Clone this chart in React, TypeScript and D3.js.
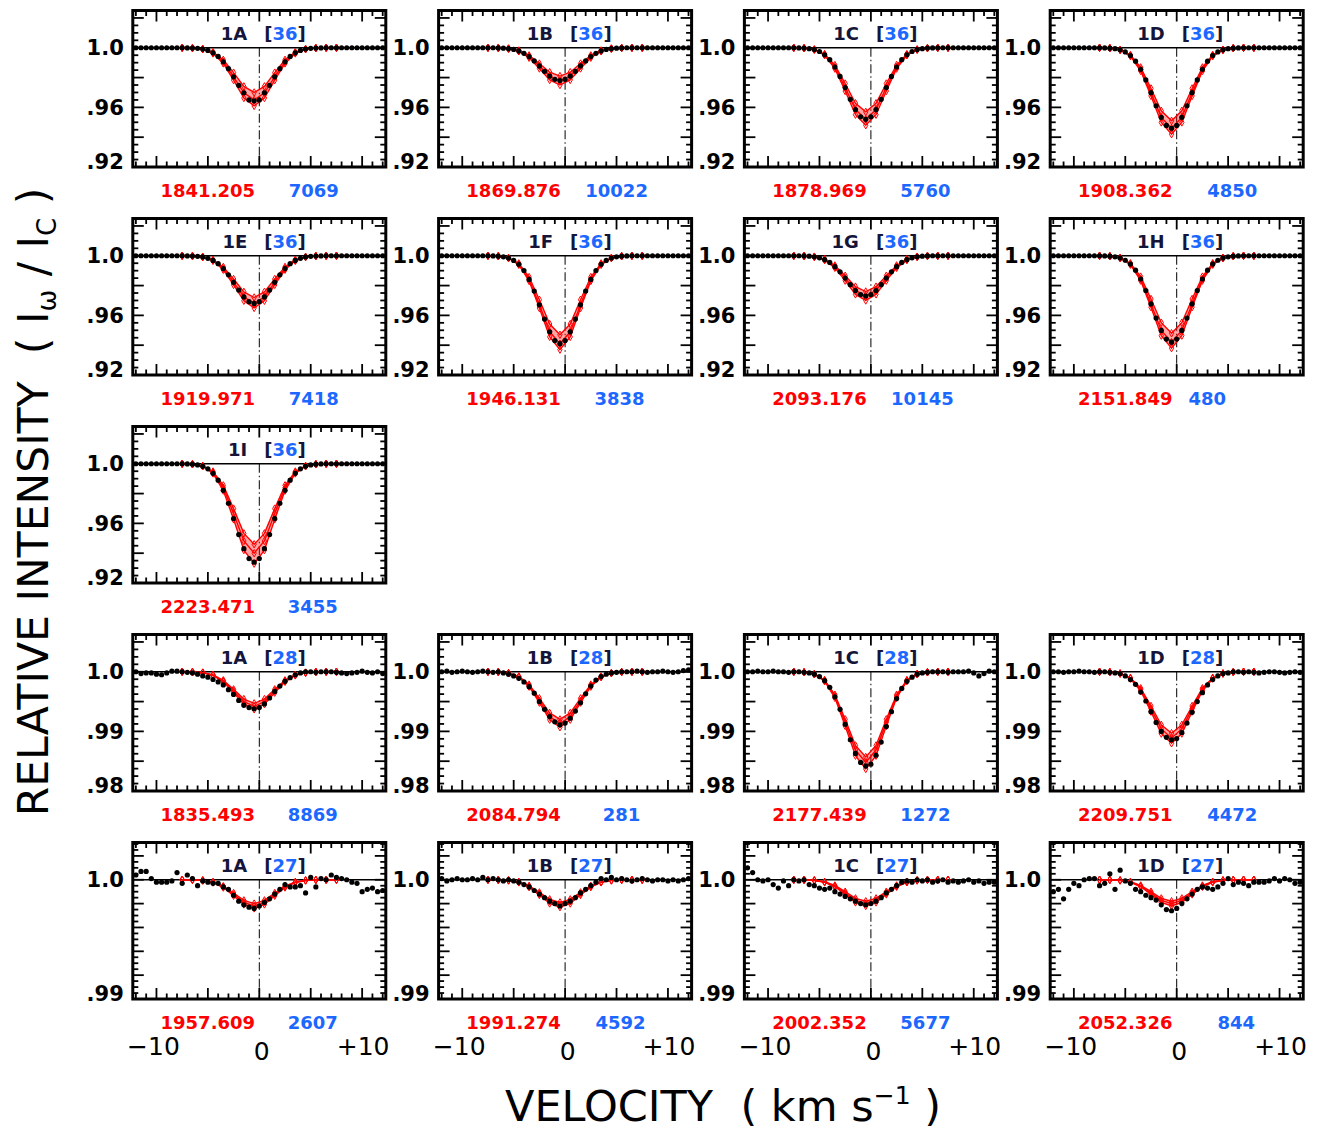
import React from "react";
import * as d3 from "d3";

// ---------------- DATA ----------------
const velocityGrid = [-12,-11.5,-11,-10.5,-10,-9.5,-9,-8.5,-8,-7.5,-7,-6.5,-6,-5.5,-5,-4.5,-4,-3.5,-3,-2.5,-2,-1.5,-1,-0.5,0,0.5,1,1.5,2,2.5,3,3.5,4,4.5,5,5.5,6,6.5,7,7.5,8,8.5,9,9.5,10,10.5,11,11.5,12];
const modelVelocity = [-7.5,-6.5,-5.5,-4.5,-3.5,-2.5,-1.5,-0.5,0.5,1.5,2.5,3.5,4.5,5.5,6.5,7.5];

const panelIds = ["1A","1B","1C","1D","1E","1F","1G","1H","1I","1A","1B","1C","1D","1A","1B","1C","1D"];
const panelSets = ["36","36","36","36","36","36","36","36","36","28","28","28","28","27","27","27","27"];
const redLabels = ["1841.205","1869.876","1878.969","1908.362","1919.971","1946.131","2093.176","2151.849","2223.471","1835.493","2084.794","2177.439","2209.751","1957.609","1991.274","2002.352","2052.326"];
const blueLabels = ["7069","10022","5760","4850","7418","3838","10145","480","3455","8869","281","1272","4472","2607","4592","5677","844"];

const obs_36_1A = [1,1,1,1,1,1,1,1,1,1,.9999,.9998,.9996,.9991,.9982,.9966,.9942,.9906,.9860,.9805,.9748,.9698,.9650,.9644,.9650,.9698,.9748,.9805,.9860,.9906,.9942,.9966,.9982,.9991,.9996,.9998,.9999,1,1,1,1,1,1,1,1,1,1,1,1];
const obs_36_1B = [1,1,1,1,1,1,1,1,1,1,1,.9999,.9997,.9994,.9989,.9979,.9963,.9941,.9912,.9878,.9842,.9810,.9788,.9780,.9788,.9810,.9842,.9878,.9912,.9941,.9963,.9979,.9989,.9994,.9997,.9999,1,1,1,1,1,1,1,1,1,1,1,1,1];
const obs_36_1C = [1,1,1,1,1,1,1,1,1,1,.9999,.9998,.9994,.9988,.9975,.9953,.9920,.9871,.9808,.9733,.9654,.9585,.9537,.9520,.9537,.9585,.9654,.9733,.9808,.9871,.9920,.9953,.9975,.9988,.9994,.9998,.9999,1,1,1,1,1,1,1,1,1,1,1,1];
const obs_36_1D = [1,1,1,1,1,1,1,1,1,1,.9999,.9997,.9994,.9986,.9972,.9948,.9910,.9855,.9784,.9699,.9611,.9533,.9479,.9460,.9479,.9533,.9611,.9699,.9784,.9855,.9910,.9948,.9972,.9986,.9994,.9997,.9999,1,1,1,1,1,1,1,1,1,1,1,1];
const obs_36_1E = [1,1,1,1,1,1,1,1,1,1,.9999,.9998,.9996,.9992,.9983,.9969,.9947,.9914,.9872,.9822,.9770,.9724,.9692,.9680,.9692,.9724,.9770,.9822,.9872,.9914,.9947,.9969,.9983,.9992,.9996,.9998,.9999,1,1,1,1,1,1,1,1,1,1,1,1];
const obs_36_1F = [1,1,1,1,1,1,1,1,1,1,.9999,.9997,.9993,.9985,.9969,.9943,.9901,.9841,.9763,.9671,.9575,.9490,.9431,.9410,.9431,.9490,.9575,.9671,.9763,.9841,.9901,.9943,.9969,.9985,.9993,.9997,.9999,1,1,1,1,1,1,1,1,1,1,1,1];
const obs_36_1G = [1,1,1,1,1,1,1,1,1,1,1,.9999,.9997,.9993,.9986,.9974,.9955,.9927,.9892,.9850,.9806,.9767,.9740,.9730,.9740,.9767,.9806,.9850,.9892,.9927,.9955,.9974,.9986,.9993,.9997,.9999,1,1,1,1,1,1,1,1,1,1,1,1,1];
const obs_36_1H = [1,1,1,1,1,1,1,1,1,1,.9999,.9997,.9993,.9985,.9970,.9944,.9903,.9844,.9767,.9677,.9582,.9499,.9441,.9420,.9441,.9499,.9582,.9677,.9767,.9844,.9903,.9944,.9970,.9985,.9993,.9997,.9999,1,1,1,1,1,1,1,1,1,1,1,1];
const obs_36_1I = [1,1,1,1,1,1,1,1,1,1,.9999,.9997,.9992,.9983,.9966,.9936,.9890,.9822,.9735,.9632,.9525,.9430,.9364,.9340,.9364,.9430,.9525,.9632,.9735,.9822,.9890,.9936,.9966,.9983,.9992,.9997,.9999,1,1,1,1,1,1,1,1,1,1,1,1];
const obs_28_1A = [1.0000,.9997,.9998,.9998,.9996,.9995,.9998,1.0001,1.0001,1.0000,.9999,.9998,.9996,.9993,.9991,.9987,.9983,.9978,.9970,.9962,.9952,.9944,.9940,.9938,.9940,.9946,.9956,.9967,.9976,.9984,.9990,.9995,.9998,1.0000,1.0000,.9999,1.0000,1.0000,1.0000,.9999,.9998,.9997,.9998,.9999,1.0001,.9999,.9998,1.0000,.9997];
const obs_28_1B = [1.0000,1.0001,.9999,1.0000,1.0001,1.0000,.9999,1.0000,1.0001,1.0000,.9999,1.0000,.9998,.9996,.9993,.9989,.9983,.9975,.9964,.9950,.9937,.9925,.9916,.9911,.9914,.9922,.9934,.9948,.9963,.9976,.9986,.9992,.9996,.9998,.9999,1.0000,1.0000,1.0000,1.0001,1.0000,.9999,1.0000,1.0000,1.0001,1.0000,.9999,1.0000,1.0002,1.0003];
const obs_28_1C = [1.0000,1.0000,1.0001,1.0000,1.0000,1.0001,1.0000,1.0000,.9999,1.0000,1.0000,.9999,.9998,.9996,.9992,.9985,.9974,.9958,.9937,.9912,.9886,.9863,.9848,.9842,.9845,.9860,.9882,.9908,.9933,.9955,.9972,.9984,.9991,.9996,.9998,.9999,1.0000,1.0000,1.0000,.9999,1.0000,1.0000,1.0000,1.0001,.9998,.9993,.9997,1.0001,1.0000];
const obs_28_1D = [1.0000,1.0000,.9999,1.0000,1.0000,1.0001,1.0000,1.0000,.9999,1.0000,1.0000,.9999,.9998,.9997,.9993,.9987,.9979,.9966,.9951,.9933,.9915,.9900,.9890,.9886,.9888,.9898,.9914,.9932,.9950,.9965,.9978,.9987,.9993,.9997,.9998,1.0000,1.0000,.9999,1.0000,.9999,.9998,.9999,1.0000,1.0000,.9999,.9998,.9999,1.0000,.9999];
const obs_27_1A = [1.0004,1.0007,1.0007,1.0001,.9998,.9998,.9998,.9999,1.0006,.9997,1.0004,1.0001,.9995,.9999,.9998,.9997,.9997,.9994,.9992,.9987,.9982,.9979,.9977,.9976,.9978,.9981,.9984,.9988,.9992,.9996,.9994,.9994,.9995,.9989,1.0002,.9994,1.0001,1.0000,1.0004,1.0002,1.0001,1.0000,.9998,.9997,.9990,.9992,.9993,.9990,.9991];
const obs_27_1B = [1.0001,.9999,1.0000,1.0001,1.0000,1.0000,1.0001,1.0000,1.0002,1.0000,1.0001,1.0000,.9999,1.0000,.9999,.9998,.9996,.9994,.9991,.9988,.9985,.9982,.9980,.9978,.9980,.9982,.9985,.9989,.9992,.9995,.9998,1.0001,1.0000,1.0002,1.0000,1.0001,1.0000,.9999,1.0000,1.0001,1.0000,.9999,1.0000,1.0000,.9999,1.0000,.9999,1.0000,1.0001];
const obs_27_1C = [1.0010,1.0006,1.0000,.9999,1.0000,.9996,.9993,.9999,.9995,1.0000,.9999,1.0000,.9996,.9995,.9993,.9992,.9993,.9990,.9988,.9986,.9984,.9982,.9980,.9979,.9980,.9982,.9985,.9989,.9992,.9995,.9998,.9999,.9998,1.0000,.9999,1.0000,.9998,.9999,1.0000,.9998,.9999,.9998,.9999,1.0000,.9998,.9999,.9997,.9998,.9998];
const obs_27_1D = [.9990,.9992,.9984,.9992,.9997,.9995,1.0000,1.0001,1.0001,.9995,.9997,1.0005,.9992,1.0008,.9999,.9997,.9992,.9990,.9987,.9985,.9983,.9979,.9975,.9974,.9976,.9980,.9984,.9988,.9992,.9994,.9993,.9992,.9994,.9997,1.0001,.9996,.9998,.9997,.9995,.9998,.9998,.9998,.9999,1.0001,.9999,1.0001,1.0000,.9997,.9998];

const mod_36_1A = [
  [1,.9998,.9992,.9971,.9919,.9833,.9741,.9700,.9741,.9833,.9919,.9971,.9992,.9998,1,1],
  [1,.9998,.9991,.9966,.9906,.9805,.9698,.9650,.9698,.9805,.9906,.9966,.9991,.9998,1,1],
  [1,.9998,.9990,.9962,.9895,.9783,.9663,.9610,.9663,.9783,.9895,.9962,.9990,.9998,1,1]];
const mod_36_1B = [
  [1,.9999,.9995,.9982,.9949,.9894,.9836,.9810,.9836,.9894,.9949,.9982,.9995,.9999,1,1],
  [1,.9999,.9994,.9979,.9941,.9878,.9810,.9780,.9810,.9878,.9941,.9979,.9994,.9999,1,1],
  [1,.9999,.9994,.9976,.9933,.9861,.9784,.9750,.9784,.9861,.9933,.9976,.9994,.9999,1,1]];
const mod_36_1C = [
  [1,.9998,.9989,.9958,.9884,.9760,.9628,.9570,.9628,.9760,.9884,.9958,.9989,.9998,1,1],
  [1,.9998,.9988,.9953,.9871,.9733,.9585,.9520,.9585,.9733,.9871,.9953,.9988,.9998,1,1],
  [1,.9997,.9987,.9950,.9860,.9710,.9551,.9480,.9551,.9710,.9860,.9950,.9987,.9997,1,1]];
const mod_36_1D = [
  [1,.9998,.9987,.9952,.9868,.9727,.9577,.9510,.9577,.9727,.9868,.9952,.9987,.9998,1,1],
  [1,.9997,.9986,.9948,.9855,.9699,.9533,.9460,.9533,.9699,.9855,.9948,.9986,.9997,1,1],
  [1,.9997,.9985,.9944,.9844,.9677,.9499,.9420,.9499,.9677,.9844,.9944,.9985,.9997,1,1]];
const mod_36_1E = [
  [1,.9999,.9993,.9973,.9925,.9844,.9758,.9720,.9758,.9844,.9925,.9973,.9993,.9999,1,1],
  [1,.9998,.9992,.9969,.9914,.9822,.9724,.9680,.9724,.9822,.9914,.9969,.9992,.9998,1,1],
  [1,.9998,.9991,.9966,.9906,.9805,.9698,.9650,.9698,.9805,.9906,.9966,.9991,.9998,1,1]];
const mod_36_1F = [
  [1,.9997,.9986,.9949,.9857,.9705,.9542,.9470,.9542,.9705,.9857,.9949,.9986,.9997,1,1],
  [1,.9997,.9985,.9943,.9841,.9671,.9490,.9410,.9490,.9671,.9841,.9943,.9985,.9997,1,1],
  [1,.9997,.9984,.9939,.9831,.9649,.9456,.9370,.9456,.9649,.9831,.9939,.9984,.9997,1,1]];
const mod_36_1G = [
  [1,.9999,.9994,.9977,.9935,.9866,.9793,.9760,.9793,.9866,.9935,.9977,.9994,.9999,1,1],
  [1,.9999,.9993,.9974,.9927,.9850,.9767,.9730,.9767,.9850,.9927,.9974,.9993,.9999,1,1],
  [1,.9998,.9992,.9971,.9919,.9833,.9741,.9700,.9741,.9833,.9919,.9971,.9992,.9998,1,1]];
const mod_36_1H = [
  [1,.9997,.9987,.9950,.9860,.9710,.9551,.9480,.9551,.9710,.9860,.9950,.9987,.9997,1,1],
  [1,.9997,.9985,.9944,.9844,.9677,.9499,.9420,.9499,.9677,.9844,.9944,.9985,.9997,1,1],
  [1,.9997,.9984,.9940,.9833,.9655,.9464,.9380,.9464,.9655,.9833,.9940,.9984,.9997,1,1]];
const mod_36_1I = [
  [1,.9997,.9986,.9948,.9855,.9699,.9533,.9460,.9533,.9699,.9855,.9948,.9986,.9997,1,1],
  [1,.9997,.9984,.9942,.9839,.9666,.9482,.9400,.9482,.9666,.9839,.9942,.9984,.9997,1,1],
  [1,.9997,.9983,.9935,.9820,.9627,.9421,.9330,.9421,.9627,.9820,.9935,.9983,.9997,1,1]];
const mod_28_1A = [
  [1,.99997,.99986,.99949,.99857,.99705,.99542,.9947,.99542,.99705,.99857,.99949,.99986,.99997,1,1],
  [1,.99997,.99985,.99944,.99844,.99677,.99499,.9942,.99499,.99677,.99844,.99944,.99985,.99997,1,1],
  [1,.99997,.99984,.99939,.99831,.99649,.99456,.9937,.99456,.99649,.99831,.99939,.99984,.99997,1,1]];
const mod_28_1B = [
  [1,.99996,.99979,.99922,.99785,.99554,.99309,.992,.99309,.99554,.99785,.99922,.99979,.99996,1,1],
  [1,.99996,.99977,.99916,.99766,.99515,.99248,.9913,.99248,.99515,.99766,.99916,.99977,.99996,1,1],
  [1,.99995,.99976,.9991,.9975,.99482,.99196,.9907,.99196,.99482,.9975,.9991,.99976,.99995,1,1]];
const mod_28_1C = [
  [1,.99993,.99963,.99861,.99615,.99203,.98764,.9857,.98764,.99203,.99615,.99861,.99963,.99993,1,1],
  [1,.99992,.9996,.99853,.99591,.99153,.98687,.9848,.98687,.99153,.99591,.99853,.9996,.99992,1,1],
  [1,.99992,.99958,.99842,.99562,.99092,.98592,.9837,.98592,.99092,.99562,.99842,.99958,.99992,1,1]];
const mod_28_1D = [
  [1,.99995,.99973,.999,.99723,.99426,.9911,.9897,.9911,.99426,.99723,.999,.99973,.99995,1,1],
  [1,.99994,.99971,.99892,.99701,.99382,.99041,.9889,.99041,.99382,.99701,.99892,.99971,.99994,1,1],
  [1,.99994,.99969,.99884,.99677,.99332,.98963,.988,.98963,.99332,.99677,.99884,.99969,.99994,1,1]];
const mod_27_1A = [
  [1,.99999,.99995,.99981,.99946,.99889,.99827,.998,.99827,.99889,.99946,.99981,.99995,.99999,1,1],
  [1,.99999,.99994,.99979,.99941,.99877,.9981,.9978,.9981,.99877,.99941,.99979,.99994,.99999,1,1],
  [1,.99999,.99994,.99977,.99935,.99866,.99793,.9976,.99793,.99866,.99935,.99977,.99994,.99999,1,1]];
const mod_27_1B = [
  [1,.99999,.99995,.99982,.99949,.99894,.99836,.9981,.99836,.99894,.99949,.99982,.99995,.99999,1,1],
  [1,.99999,.99995,.9998,.99944,.99883,.99819,.9979,.99819,.99883,.99944,.9998,.99995,.99999,1,1],
  [1,.99999,.99994,.99978,.99938,.99872,.99801,.9977,.99801,.99872,.99938,.99978,.99994,.99999,1,1]];
const mod_27_1C = [
  [1,.99999,.99995,.99983,.99952,.999,.99844,.9982,.99844,.999,.99952,.99983,.99995,.99999,1,1],
  [1,.99999,.99995,.99981,.99946,.99889,.99827,.998,.99827,.99889,.99946,.99981,.99995,.99999,1,1],
  [1,.99999,.99994,.99979,.99941,.99877,.9981,.9978,.9981,.99877,.99941,.99979,.99994,.99999,1,1]];
const mod_27_1D = [
  [1,.99999,.99995,.99983,.99952,.999,.99844,.9982,.99844,.999,.99952,.99983,.99995,.99999,1,1],
  [1,.99999,.99995,.99981,.99946,.99889,.99827,.998,.99827,.99889,.99946,.99981,.99995,.99999,1,1],
  [1,.99999,.99994,.99979,.99941,.99877,.9981,.9978,.9981,.99877,.99941,.99979,.99994,.99999,1,1]];

const obsSeries = [obs_36_1A,obs_36_1B,obs_36_1C,obs_36_1D,obs_36_1E,obs_36_1F,obs_36_1G,obs_36_1H,obs_36_1I,obs_28_1A,obs_28_1B,obs_28_1C,obs_28_1D,obs_27_1A,obs_27_1B,obs_27_1C,obs_27_1D];
const modelSeries = [mod_36_1A,mod_36_1B,mod_36_1C,mod_36_1D,mod_36_1E,mod_36_1F,mod_36_1G,mod_36_1H,mod_36_1I,mod_28_1A,mod_28_1B,mod_28_1C,mod_28_1D,mod_27_1A,mod_27_1B,mod_27_1C,mod_27_1D];

const rowTickValues = [[1.0,0.96,0.92],[1.0,0.96,0.92],[1.0,0.96,0.92],[1.0,0.99,0.98],[1.0,0.99]];
const rowTickTexts = [["1.0",".96",".92"],["1.0",".96",".92"],["1.0",".96",".92"],["1.0",".99",".98"],["1.0",".99"]];
const xTickValues = [-10, 0, 10];
const xTickTexts = ["\u221210", "0", "+10"];

// ---------------- LAYOUT ----------------
const W = 1325, H = 1133;
const panelRow = [0,0,0,0,1,1,1,1,2,3,3,3,3,4,4,4,4];
const panelCol = [0,1,2,3,0,1,2,3,0,0,1,2,3,0,1,2,3];
const colLeft = [132.8, 438.6, 744.4, 1050.2];
const rowTop = [10.5, 218.5, 426.5, 634.5, 842.5];
const PW = 253, PH = 156.5;
const xDomain: [number, number] = [-12.3, 12.3];
const rowDomain: [number, number][] = [[0.92,1.025],[0.92,1.025],[0.92,1.025],[0.98,1.00625],[0.99,1.003125]];
const rowMajor = [0.02,0.02,0.02,0.005,0.002];
const rowMinor = [0.005,0.005,0.005,0.00125,0.0005];
const blueCenter = [181,178,181,182,181,181,178,157,180,180,183,181,182,180,182,181,186];
const redCenter = 75;

const RED = "#ff0000";
const BLUE = "#1c68ff";
const NAVY = "#15153a";
const FONT = "DejaVu Sans";

function Panel({ i }: { i: number }) {
  const r = panelRow[i], c = panelCol[i];
  const left = colLeft[c], top = rowTop[r];
  const right = left + PW, bottom = top + PH;
  const x = d3.scaleLinear().domain(xDomain).range([left, right]);
  const y = d3.scaleLinear().domain(rowDomain[r]).range([bottom, top]);
  const [d0, d1] = rowDomain[r];
  const minor = rowMinor[r], major = rowMajor[r];
  const n = Math.floor((d1 - d0) / minor + 1e-6);
  const yTicks = d3.range(1, n + 1).map(k => d0 + k * minor).filter(v => v < d1 - 1e-9);
  const isMajorY = (v: number) => { const q = (v - d0) / major; return Math.abs(q - Math.round(q)) < 1e-4; };
  const xTicks = d3.range(-12, 13);

  const line = d3.line<number>().x((_, j) => x(modelVelocity[j])).y(d => y(d));
  const models = modelSeries[i];
  const lo = models[0], hi = models[models.length - 1];
  const band = d3.area<number>().x((_, j) => x(modelVelocity[j])).y0((_, j) => y(lo[j])).y1((_, j) => y(hi[j]));
  const diamond = d3.symbol().type(d3.symbolDiamond).size(16)();
  const obs = obsSeries[i];
  const cx = x(0);

  return (
    <g>
      <line x1={left} x2={right} y1={y(1)} y2={y(1)} stroke="#000" strokeWidth={1.3} />
      <line x1={cx} x2={cx} y1={y(1)} y2={bottom} stroke="#000" strokeWidth={1} strokeDasharray="9,3,1.5,3" />
      <path d={band(lo) || ""} fill={RED} fillOpacity={0.35} stroke="none" />
      {models.map((m, k) => (
        <g key={"m" + k}>
          <path d={line(m) || ""} fill="none" stroke={RED} strokeWidth={1.4} />
          {m.map((v, j) => (
            <path key={j} d={diamond || ""} transform={`translate(${x(modelVelocity[j])},${y(v)})`} fill="none" stroke={RED} strokeWidth={1} />
          ))}
        </g>
      ))}
      {obs.map((v, j) => (
        <circle key={"o" + j} cx={x(velocityGrid[j])} cy={y(v)} r={2.6} fill="#000" />
      ))}
      {xTicks.map(v => {
        const len = v % 5 === 0 ? 11 : 5.5;
        return (
          <g key={"xt" + v}>
            <line x1={x(v)} x2={x(v)} y1={bottom} y2={bottom - len} stroke="#000" strokeWidth={1.8} />
            <line x1={x(v)} x2={x(v)} y1={top} y2={top + len} stroke="#000" strokeWidth={1.8} />
          </g>
        );
      })}
      {yTicks.map((v, k) => {
        const len = isMajorY(v) ? 11 : 5.5;
        return (
          <g key={"yt" + k}>
            <line x1={left} x2={left + len} y1={y(v)} y2={y(v)} stroke="#000" strokeWidth={1.8} />
            <line x1={right} x2={right - len} y1={y(v)} y2={y(v)} stroke="#000" strokeWidth={1.8} />
          </g>
        );
      })}
      <rect x={left} y={top} width={PW} height={PH} fill="none" stroke="#000" strokeWidth={3} />
      {rowTickValues[r].map((v, k) => (
        <text key={"yl" + k} x={left - 9} y={Math.abs(v - d0) < 1e-9 ? y(v) - 6 : y(v)} dy="0.36em"
          textAnchor="end" fontFamily={FONT} fontWeight="bold" fontSize={21} fill="#000">
          {rowTickTexts[r][k]}
        </text>
      ))}
      <text x={cx - 12} y={top + 29} textAnchor="end" fontFamily={FONT} fontWeight="bold" fontSize={18} fill={NAVY}>
        {panelIds[i]}
      </text>
      <text x={cx + 5} y={top + 29} textAnchor="start" fontFamily={FONT} fontWeight="bold" fontSize={18} fill={NAVY}>
        [<tspan fill={BLUE}>{panelSets[i]}</tspan>]
      </text>
      <text x={left + redCenter} y={bottom + 29.5} textAnchor="middle" fontFamily={FONT} fontWeight="bold" fontSize={18} fill={RED}>
        {redLabels[i]}
      </text>
      <text x={left + blueCenter[i]} y={bottom + 29.5} textAnchor="middle" fontFamily={FONT} fontWeight="bold" fontSize={18} fill={BLUE}>
        {blueLabels[i]}
      </text>
      {r === 4 && xTickValues.map((v, k) => (
        <text key={"xl" + k} x={x(v) + (v < 0 ? -3 : v > 0 ? 1 : 2.5)} y={bottom + (v === 0 ? 61 : 56)}
          textAnchor="middle" fontFamily={FONT} fontSize={25} fill="#000">
          {xTickTexts[k]}
        </text>
      ))}
    </g>
  );
}

export default function App() {
  return (
    <svg width={W} height={H} viewBox={`0 0 ${W} ${H}`} style={{ position: "absolute", left: 0, top: 0, background: "#fff" }}>
      <rect x={0} y={0} width={W} height={H} fill="#fff" />
      {panelIds.map((_, i) => <Panel key={i} i={i} />)}
      <text x={723} y={1121} textAnchor="middle" fontFamily={FONT} fontSize={43} fill="#000" style={{ whiteSpace: "pre" }}>
        {"VELOCITY  ( km s"}<tspan dy={-17} fontSize={25}>{"\u22121"}</tspan><tspan dy={17}>{" )"}</tspan>
      </text>
      <text transform="translate(48,502) rotate(-90)" textAnchor="middle" fontFamily={FONT} fontSize={42.5} fill="#000" style={{ whiteSpace: "pre" }}>
        {"RELATIVE INTENSITY  ( I"}<tspan dy={8} fontSize={26}>{"\u03c9"}</tspan><tspan dy={-8}>{" / I"}</tspan><tspan dy={8} fontSize={26}>{"C"}</tspan><tspan dy={-8}>{" )"}</tspan>
      </text>
    </svg>
  );
}
